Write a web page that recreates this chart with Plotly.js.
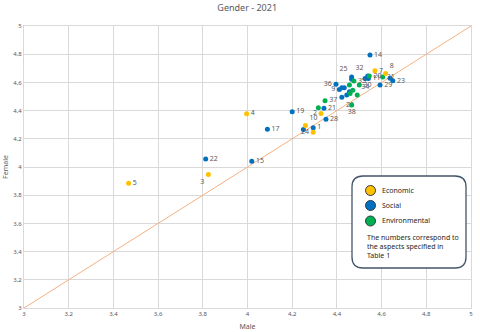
<!DOCTYPE html>
<html>
<head>
<meta charset="utf-8">
<script src="https://cdn.plot.ly/plotly-3.0.1.min.js"></script>
<style>html,body{margin:0;padding:0;background:#fff}</style>
</head>
<body>
<div id="myPlot" style="width:480px;height:332px"></div>
<script>
// Economic aspects
var ecoX = [3.468, 3.825, 3.996, 4.329, 4.259, 4.294, 4.570, 4.618];
var ecoY = [3.885, 3.946, 4.378, 4.380, 4.294, 4.246, 4.682, 4.663];
var ecoLabels = ["5", "3", "4", "2", "10", "24", "7", "8"];

// Social aspects
var socX = [3.813, 4.019, 4.089, 4.200, 4.294, 4.250, 4.342, 4.351, 4.422, 4.396, 4.411, 4.422, 4.433, 4.444, 4.456, 4.466, 4.466, 4.538, 4.526, 4.541, 4.548, 4.638, 4.650, 4.593];
var socY = [4.057, 4.041, 4.267, 4.392, 4.279, 4.266, 4.416, 4.338, 4.494, 4.586, 4.550, 4.562, 4.562, 4.510, 4.533, 4.639, 4.623, 4.646, 4.628, 4.628, 4.795, 4.630, 4.611, 4.581];
var socLabels = ["22", "15", "17", "19", "1", "", "21", "28", "26", "36", "9", "", "", "", "", "25", "", "32", "", "11", "14", "", "23", "29"];

// Environmental aspects
var envX = [4.317, 4.347, 4.466, 4.491, 4.500, 4.456, 4.471, 4.459, 4.545, 4.476, 4.605];
var envY = [4.421, 4.470, 4.439, 4.510, 4.581, 4.581, 4.545, 4.522, 4.646, 4.610, 4.639];
var envLabels = ["", "37", "38", "34", "30", "", "", "", "20", "35", "31"];

// reference line y = x
var refX = [3, 5];
var refY = [3, 5];

// where each label sits next to its dot
var ecoPos = ["middle right", "bottom left", "middle right", "middle left", "top right", "middle left", "middle right", "top right"];
var socPos = socLabels.map(function(l){ return "middle right"; });
socPos[8] = "bottom right"; socPos[9] = "middle left"; socPos[10] = "middle left";
socPos[15] = "top left"; socPos[17] = "top left";
var envPos = envLabels.map(function(l){ return "middle right"; });
envPos[2] = "bottom center"; envPos[3] = "top right";

var colEco = "#FFC000", colSoc = "#0070C0", colEnv = "#00B050";
var labelFont = {family: "Noto Sans, sans-serif", size: 7, color: "#595959"};

function pts(x, y, t, pos, c){
  return {x: x, y: y, text: t, textposition: pos, mode: "markers+text", type: "scatter",
    marker: {size: 5, color: c}, textfont: labelFont, cliponaxis: false, hoverinfo: "x+y"};
}

var data = [
  {x: refX, y: refY, mode: "lines", type: "scatter", line: {color: "#F4B183", width: 1}, hoverinfo: "skip"},
  pts(socX, socY, socLabels, socPos, colSoc),
  pts(envX, envY, envLabels, envPos, colEnv),
  pts(ecoX, ecoY, ecoLabels, ecoPos, colEco)
];

// pixel -> paper helpers for the custom key box
var L = 24, R = 471, T = 26, B = 308;
function px(x){ return (x - L) / (R - L); }
function py(y){ return (B - y) / (B - T); }

function roundBox(x0, y0, x1, y1, r){
  var p = "M " + px(x0 + r) + "," + py(y0) +
    " L " + px(x1 - r) + "," + py(y0) +
    " Q " + px(x1) + "," + py(y0) + " " + px(x1) + "," + py(y0 + r) +
    " L " + px(x1) + "," + py(y1 - r) +
    " Q " + px(x1) + "," + py(y1) + " " + px(x1 - r) + "," + py(y1) +
    " L " + px(x0 + r) + "," + py(y1) +
    " Q " + px(x0) + "," + py(y1) + " " + px(x0) + "," + py(y1 - r) +
    " L " + px(x0) + "," + py(y0 + r) +
    " Q " + px(x0) + "," + py(y0) + " " + px(x0 + r) + "," + py(y0) + " Z";
  return p;
}

var keyNames = ["Economic", "Social", "Environmental"];
var keyCols = [colEco, colSoc, colEnv];
var keyRows = [190.5, 205.5, 221];

var shapes = [{type: "path", xref: "paper", yref: "paper", path: roundBox(352, 176, 466, 268, 11),
  fillcolor: "#ffffff", line: {color: "#44546A", width: 1.3}, layer: "above"}];
var annotations = [];
keyNames.forEach(function(n, i){
  shapes.push({type: "circle", xref: "paper", yref: "paper",
    x0: px(365.5), x1: px(375.5), y0: py(keyRows[i] + 5), y1: py(keyRows[i] - 5),
    fillcolor: keyCols[i], line: {color: "#2F3B4C", width: 1}, layer: "above"});
  annotations.push({xref: "paper", yref: "paper", x: px(379.5), y: py(keyRows[i]),
    xanchor: "left", yanchor: "middle", showarrow: false, text: n,
    font: {family: "Noto Sans, sans-serif", size: 7, color: "#262626"}});
});
annotations.push({xref: "paper", yref: "paper", x: px(365), y: py(231), xanchor: "left", yanchor: "top",
  align: "left", showarrow: false,
  text: "The numbers correspond to<br>the aspects specified in<br>Table 1",
  font: {family: "Noto Sans, sans-serif", size: 7, color: "#262626"}});

var axisFont = {family: "Noto Sans, sans-serif", size: 6, color: "#595959"};
var layout = {
  width: 480, height: 332,
  margin: {l: L, r: 480 - R, t: T, b: 332 - B},
  paper_bgcolor: "#ffffff", plot_bgcolor: "#ffffff",
  separators: ", ",
  showlegend: false,
  title: {text: "Gender - 2021", x: 0.515, y: 0.975, yanchor: "middle",
    font: {family: "Noto Sans, sans-serif", size: 9, color: "#595959"}},
  xaxis: {range: [3, 5], dtick: 0.2, tick0: 3, showgrid: true, gridcolor: "#D9D9D9", zeroline: false,
    showline: true, linecolor: "#D9D9D9", mirror: true, ticks: "", tickfont: axisFont,
    title: {text: "Male", font: {family: "Noto Sans, sans-serif", size: 7, color: "#595959"}, standoff: 6}},
  yaxis: {range: [3, 5], dtick: 0.2, tick0: 3, showgrid: true, gridcolor: "#D9D9D9", zeroline: false,
    showline: true, linecolor: "#D9D9D9", mirror: true, ticks: "", tickfont: axisFont,
    title: {text: "Female", font: {family: "Noto Sans, sans-serif", size: 7, color: "#595959"}, standoff: 3}},
  shapes: shapes,
  annotations: annotations
};

Plotly.newPlot("myPlot", data, layout, {displayModeBar: false, staticPlot: true});
</script>
</body>
</html>
